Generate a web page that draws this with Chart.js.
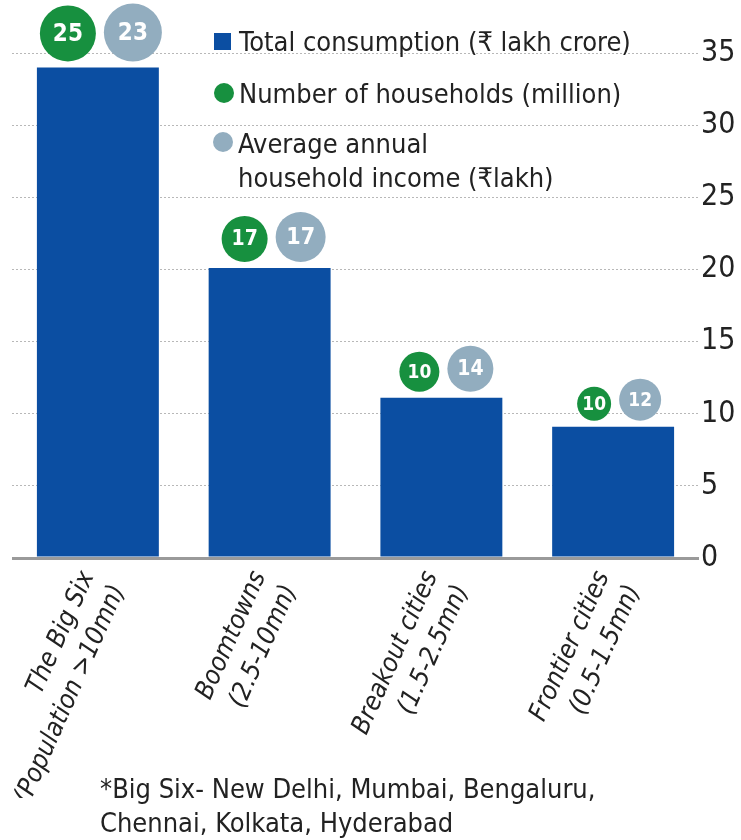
<!DOCTYPE html>
<html>
<head>
<meta charset="utf-8">
<script src="https://cdn.jsdelivr.net/npm/chart.js@4"></script>
<style>
  html, body { margin: 0; padding: 0; background: #fff; }
  #wrap { width: 741px; height: 840px; position: relative; }
</style>
</head>
<body>
<div id="wrap"><canvas id="cityChart"></canvas></div>
<script>
// data
const categories = [
    ['The Big Six', '(Population >10mn)'],
    ['Boomtowns', '(2.5-10mn)'],
    ['Breakout cities', '(1.5-2.5mn)'],
    ['Frontier cities', '(0.5-1.5mn)']
];
const consumption = [34.0, 20.1, 11.1, 9.1];   // ₹ lakh crore
const households = [25, 17, 10, 10];           // million
const avgIncome = [23, 17, 14, 12];            // ₹ lakh
const yTicks = [0, 5, 10, 15, 20, 25, 30, 35];

const legendLabels = [
    'Total consumption (₹ lakh crore)',
    'Number of households (million)',
    ['Average annual', 'household income (₹lakh)']
];
const footnote = ['*Big Six- New Delhi, Mumbai, Bengaluru,', 'Chennai, Kolkata, Hyderabad'];

const NARROW = "'Liberation Sans Narrow', 'DejaVu Sans Condensed', 'Roboto', sans-serif";
const BLUE = '#0b4ea2';
const GREEN = '#17903f';
const GREY = '#92adbf';
const greenRadius = [28, 23, 20, 17];
const greyRadius = [29, 25, 23, 21];

// circles with households / income above each bar
const bubblePlugin = {
    id: 'bubbles',
    afterDatasetsDraw(chart) {
        const ctx = chart.ctx;
        const bars = chart.getDatasetMeta(0).data;
        bars.forEach((bar, i) => {
            const rg = greenRadius[i];
            const ry = greyRadius[i];
            const gap = 8;
            const gx = bar.x - gap / 2 - rg + 2;
            const yx = bar.x + gap / 2 + ry + 2;
            drawBubble(ctx, gx, bar.y - rg - 6, rg, GREEN, households[i]);
            drawBubble(ctx, yx, bar.y - ry - 6, ry, GREY, avgIncome[i]);
        });
    }
};

function drawBubble(ctx, x, y, r, color, value) {
    ctx.save();
    ctx.beginPath();
    ctx.arc(x, y, r, 0, Math.PI * 2);
    ctx.fillStyle = color;
    ctx.fill();
    ctx.fillStyle = '#fff';
    const size = Math.max(19, Math.min(24, Math.round(r * 0.9)));
    ctx.font = 'bold ' + size + "px 'DejaVu Sans Condensed', 'DejaVu Sans', sans-serif";
    ctx.textAlign = 'center';
    ctx.textBaseline = 'middle';
    ctx.fillText(String(value), x, y + 1);
    ctx.restore();
}

// legend and footnote
const textPlugin = {
    id: 'texts',
    afterDraw(chart) {
        const ctx = chart.ctx;
        ctx.save();
        ctx.font = '27px ' + NARROW;
        ctx.textBaseline = 'alphabetic';
        ctx.textAlign = 'left';

        ctx.fillStyle = BLUE;
        ctx.fillRect(214, 33, 17, 17);
        ctx.fillStyle = '#222';
        ctx.fillText(legendLabels[0], 239, 51);

        ctx.beginPath();
        ctx.arc(224, 93, 10, 0, Math.PI * 2);
        ctx.fillStyle = GREEN;
        ctx.fill();
        ctx.fillStyle = '#222';
        ctx.fillText(legendLabels[1], 239, 103);

        ctx.beginPath();
        ctx.arc(223, 142, 10, 0, Math.PI * 2);
        ctx.fillStyle = GREY;
        ctx.fill();
        ctx.fillStyle = '#222';
        ctx.fillText(legendLabels[2][0], 238, 153);
        ctx.fillText(legendLabels[2][1], 238, 187);

        ctx.fillText(footnote[0], 100, 798);
        ctx.fillText(footnote[1], 100, 832);
        ctx.restore();
    }
};

const ctx = document.getElementById('cityChart').getContext('2d');
new Chart(ctx, {
    type: 'bar',
    data: {
        labels: categories,
        datasets: [{
            label: 'Total consumption (₹ lakh crore)',
            data: consumption,
            backgroundColor: BLUE,
            barPercentage: 0.71,
            categoryPercentage: 1
        }]
    },
    options: {
        responsive: true,
        maintainAspectRatio: false,
        animation: false,
        layout: { padding: { top: 53, left: 12, right: 0, bottom: 42 } },
        plugins: {
            legend: { display: false },
            tooltip: { enabled: false }
        },
        scales: {
            x: {
                grid: { display: false },
                border: { display: false },
                ticks: {
                    autoSkip: false,
                    minRotation: 66,
                    maxRotation: 66,
                    padding: 0,
                    labelOffset: -10,
                    color: '#222',
                    font: { family: NARROW, size: 26, style: 'italic', lineHeight: 1.3 }
                },
                afterFit: scale => {
                    scale.height = 240;
                    scale.paddingLeft = 0;
                    scale.paddingRight = 0;
                }
            },
            y: {
                position: 'right',
                min: 0,
                max: 35,
                afterBuildTicks: scale => {
                    scale.ticks = yTicks.map(v => ({ value: v }));
                },
                grid: {
                    drawTicks: false,
                    color: c => c.tick && c.tick.value === 0 ? '#9a9a9a' : '#b8b8b8',
                    lineWidth: c => c.tick && c.tick.value === 0 ? 3 : 1
                },
                border: {
                    display: false,
                    dash: c => c.tick && c.tick.value === 0 ? [] : [2, 2]
                },
                ticks: {
                    padding: 2,
                    color: '#222',
                    font: { family: NARROW, size: 30 }
                },
                afterFit: scale => {
                    scale.width = 42;
                    scale.paddingTop = 0;
                    scale.paddingBottom = 0;
                }
            }
        }
    },
    plugins: [bubblePlugin, textPlugin]
});
</script>
</body>
</html>
